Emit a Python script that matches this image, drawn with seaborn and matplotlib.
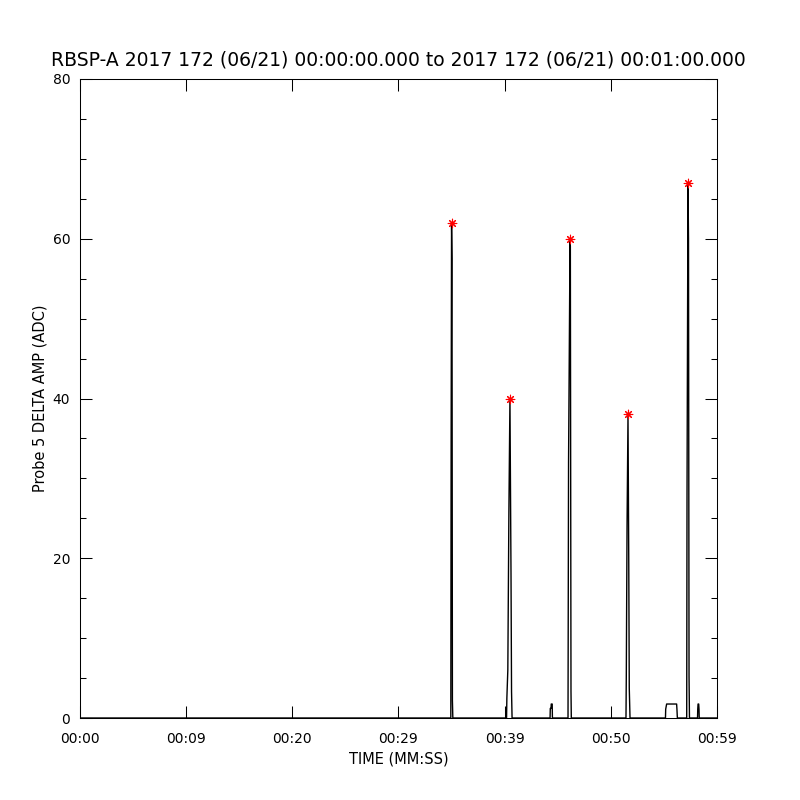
#!/usr/bin/env python3
"""Probe 5 delta amplitude over one minute, RBSP-A 2017-172."""

import matplotlib

matplotlib.use("Agg")
import matplotlib.pyplot as plt
from matplotlib.ticker import MultipleLocator
import pandas as pd
import seaborn as sns

title = "RBSP-A 2017 172 (06/21) 00:00:00.000 to 2017 172 (06/21) 00:01:00.000"
tick_seconds = [0, 10, 20, 30, 40, 50, 60]
tick_labels = ["00:00", "00:09", "00:20", "00:29", "00:39", "00:50", "00:59"]

# samples (seconds, ADC)
time_s = [
    0.0,
    34.93, 34.96, 35.00, 35.04, 35.08, 35.12,
    40.18, 40.21, 40.30, 40.40, 40.50, 40.60, 40.65, 40.70,
    44.28, 44.30, 44.37, 44.39, 44.48, 44.50,
    45.97, 46.02, 46.16, 46.19, 46.25, 46.28,
    51.43, 51.46, 51.53, 51.62, 51.69, 51.74, 51.81,
    55.15, 55.17, 55.26, 56.20, 56.23, 56.27,
    57.15, 57.18, 57.27, 57.32, 57.37, 57.41,
    58.17, 58.19, 58.22, 58.28, 58.31, 58.33,
    60.0,
]
amp_adc = [
    0.0,
    0.0, 35.0, 62.0, 57.5, 2.2, 0.0,
    0.0, 2.5, 6.0, 25.8, 40.0, 18.0, 3.3, 0.0,
    0.0, 1.2, 1.2, 1.75, 1.75, 0.0,
    0.0, 32.0, 60.0, 59.0, 3.3, 0.0,
    0.0, 5.2, 24.0, 38.0, 20.0, 3.75, 0.0,
    0.0, 1.1, 1.75, 1.75, 1.1, 0.0,
    0.0, 28.0, 67.0, 60.0, 5.2, 0.0,
    0.0, 1.1, 1.75, 1.75, 1.1, 0.0,
    0.0,
]
peak_time_s = [35.00, 40.50, 46.16, 51.62, 57.27]
peak_amp = [62, 40, 60, 38, 67]


def main():
    trace = pd.DataFrame({"time": time_s, "amp": amp_adc})
    peaks = pd.DataFrame({"time": peak_time_s, "amp": peak_amp})

    sns.set_style("ticks")
    plt.rcParams["font.family"] = ["DejaVu Sans"]
    plt.rcParams["text.color"] = "black"
    plt.rcParams["axes.labelcolor"] = "black"

    fig = plt.figure(figsize=(8, 8), dpi=100)
    ax = fig.add_axes([0.1, 0.1025, 0.7962, 0.79875])

    sns.lineplot(data=trace, x="time", y="amp", ax=ax, color="black",
                 linewidth=1.0, estimator=None, sort=False)
    sns.scatterplot(data=peaks, x="time", y="amp", ax=ax, marker=(8, 2, 0),
                    s=38, color="red", edgecolor="red", linewidth=0.8, zorder=3)

    ax.set_xlim(0, 60)
    ax.set_ylim(0, 80)
    ax.set_xticks(tick_seconds)
    ax.set_xticklabels(tick_labels)
    ax.set_yticks([0, 20, 40, 60, 80])
    ax.yaxis.set_minor_locator(MultipleLocator(5))

    ax.tick_params(which="both", direction="in", top=True, right=True,
                   width=0.75, colors="black", labelsize=10)
    ax.tick_params(which="major", length=8.6)
    ax.tick_params(which="minor", length=4.3)
    ax.tick_params(axis="x", pad=10)
    ax.tick_params(axis="y", pad=7)

    for spine in ax.spines.values():
        spine.set_visible(True)
        spine.set_linewidth(0.75)
        spine.set_color("black")

    ax.set_title(title, fontsize=13.5, pad=10, color="black")
    ax.set_xlabel("TIME (MM:SS)", fontsize=10.5, labelpad=4)
    ax.set_ylabel("Probe 5 DELTA AMP (ADC)", fontsize=10.5, labelpad=4)

    fig.savefig("out.png", dpi=100, facecolor="white")
    plt.close(fig)


if __name__ == "__main__":
    main()
